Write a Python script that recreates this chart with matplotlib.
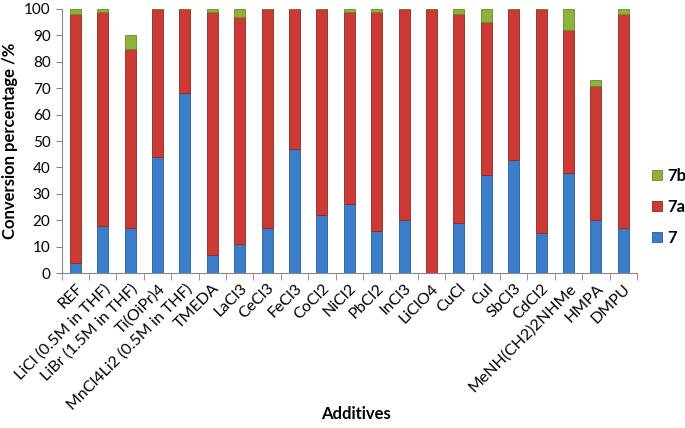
import matplotlib
matplotlib.use("Agg")
import matplotlib.pyplot as plt
import numpy as np

plt.rcParams["font.family"] = ["Lato", "DejaVu Sans"]

additives = ["REF", "LiCl (0.5M in THF)", "LiBr (1.5M in THF)", "Ti(OiPr)4",
             "MnCl4Li2 (0.5M in THF)", "TMEDA", "LaCl3", "CeCl3", "FeCl3", "CoCl2",
             "NiCl2", "PbCl2", "InCl3", "LiClO4", "CuCl", "CuI", "SbCl3", "CdCl2",
             "MeNH(CH2)2NHMe", "HMPA", "DMPU"]
p7 = [4, 18, 17, 44, 68, 7, 11, 17, 47, 22, 26, 16, 20, 0, 19, 37, 43, 15, 38, 20, 17]
p7a = [94, 81, 68, 56, 32, 92, 86, 83, 53, 78, 73, 83, 80, 100, 79, 58, 57, 85, 54, 51, 81]
p7b = [2, 1, 5, 0, 0, 1, 3, 0, 0, 0, 1, 1, 0, 0, 2, 5, 0, 0, 8, 2, 2]

blue, red, green = "#3b7dc9", "#cc3a35", "#8db43a"

fig = plt.figure(figsize=(6.85, 4.28), dpi=100)
ax = fig.add_axes([0.09, 0.362, 0.84, 0.617])

x = np.arange(len(additives))
w = 0.4
b7 = np.array(p7)
b7a = b7 + np.array(p7a)
ax.bar(x, p7, w, color=blue, edgecolor="#2a5d99", linewidth=0.6, label="7")
ax.bar(x, p7a, w, bottom=b7, color=red, edgecolor="#8e2624", linewidth=0.6, label="7a")
ax.bar(x, p7b, w, bottom=b7a, color=green, edgecolor="#6a8a25", linewidth=0.6, label="7b")

ax.set_xlim(-0.5, len(additives) - 0.5)
ax.set_ylim(0, 100)
ax.set_yticks(range(0, 101, 10))
ax.tick_params(axis="y", labelsize=11, length=4, color="#888888", pad=4)
ax.set_xticks(x)
ax.set_xticklabels(additives, rotation=45, ha="right", rotation_mode="anchor", fontsize=11.5)
ax.tick_params(axis="x", length=0, pad=6)
ax.set_xticks(np.arange(-0.5, len(additives)), minor=True)
ax.tick_params(axis="x", which="minor", length=5, color="#888888")

for s in ["top", "right"]:
    ax.spines[s].set_visible(False)
for s in ["left", "bottom"]:
    ax.spines[s].set_color("#888888")

ax.set_ylabel("Conversion percentage /%", fontsize=12, fontweight="bold")
fig.text(0.52, 0.02, "Additives", ha="center", fontsize=12, fontweight="bold")

h, l = ax.get_legend_handles_labels()
leg = ax.legend(h[::-1], l[::-1], loc="center left", bbox_to_anchor=(1.0, 0.25),
                frameon=False, fontsize=12, handlelength=0.6, handleheight=0.6,
                labelspacing=0.9, handletextpad=0.3)
for t in leg.get_texts():
    t.set_fontweight("bold")

fig.savefig("out.png", dpi=100)
